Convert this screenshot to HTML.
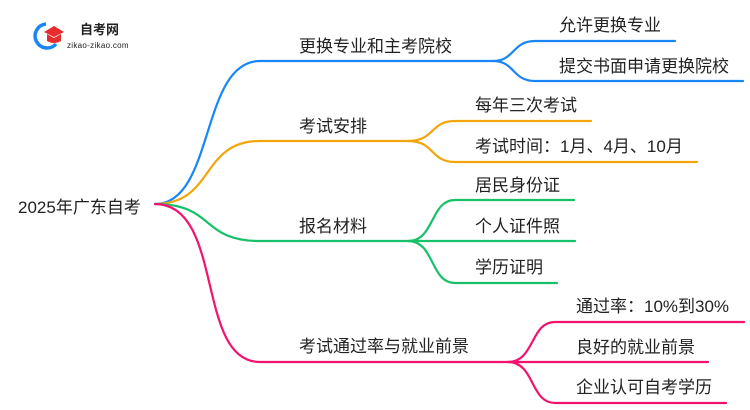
<!DOCTYPE html>
<html><head><meta charset="utf-8"><style>
html,body{margin:0;padding:0;background:#fff;}
svg{display:block;}
text{font-family:"Liberation Sans","Noto Sans CJK SC",sans-serif;fill:#222;}
</style></head><body>
<svg width="750" height="410" viewBox="0 0 750 410" xmlns="http://www.w3.org/2000/svg">
<g fill="none" stroke-width="2.2" stroke-linecap="round">
<path d="M155,204 C215,204 200,61 260,61 L493,61" stroke="#1a86f5"/>
<path d="M493,61 C515,61 512,41 535,41 L675,41" stroke="#1a86f5"/>
<path d="M493,61 C515,61 512,81 535,81 L743,81" stroke="#1a86f5"/>
<path d="M155,204 C215,204 200,141 260,141 L408,141" stroke="#f2a50c"/>
<path d="M408,141 C435,141 430,121 455,121 L591,121" stroke="#f2a50c"/>
<path d="M408,141 C435,141 430,162 455,162 L697,162" stroke="#f2a50c"/>
<path d="M155,204 C215,204 200,241 260,241 L408,241" stroke="#18c06a"/>
<path d="M408,241 C435,241 430,200 455,200 L574,200" stroke="#18c06a"/>
<path d="M408,241 L575,241" stroke="#18c06a"/>
<path d="M408,241 C435,241 430,283 455,283 L557,283" stroke="#18c06a"/>
<path d="M155,204 C225,204 195,362 260,362 L508,362" stroke="#f2136e"/>
<path d="M508,362 C535,362 530,322 555,322 L744,322" stroke="#f2136e"/>
<path d="M508,362 L708,362" stroke="#f2136e"/>
<path d="M508,362 C535,362 530,403 555,403 L726,403" stroke="#f2136e"/>
</g>
<path d="M46,24 A12,12 0 1 0 56,44" fill="none" stroke="#1a86f5" stroke-width="3.5"/>
<path d="M44,32 L54,26 L64,32 L54,37 Z" fill="#e52d2d"/>
<path d="M47,34 L47,41 Q54,45 61,41 L61,34 L54,38 Z" fill="#e52d2d"/>
<text x="80" y="34" font-size="13" font-weight="bold" fill="#333">自考网</text>
<text x="67" y="48" font-size="8" fill="#666" letter-spacing="0.3">zikao-zikao.com</text>
<text x="18" y="213" font-size="17">2025年广东自考</text>
<text x="299" y="52" font-size="17">更换专业和主考院校</text>
<text x="559" y="31" font-size="17">允许更换专业</text>
<text x="559" y="72" font-size="17">提交书面申请更换院校</text>
<text x="299" y="132" font-size="17">考试安排</text>
<text x="475" y="111" font-size="17">每年三次考试</text>
<text x="475" y="152" font-size="17">考试时间：1月、4月、10月</text>
<text x="299" y="232" font-size="17">报名材料</text>
<text x="475" y="191" font-size="17">居民身份证</text>
<text x="475" y="232" font-size="17">个人证件照</text>
<text x="475" y="273" font-size="17">学历证明</text>
<text x="299" y="352" font-size="17">考试通过率与就业前景</text>
<text x="576" y="312" font-size="17">通过率：10%到30%</text>
<text x="576" y="353" font-size="17">良好的就业前景</text>
<text x="576" y="393" font-size="17">企业认可自考学历</text>
</svg>
</body></html>
